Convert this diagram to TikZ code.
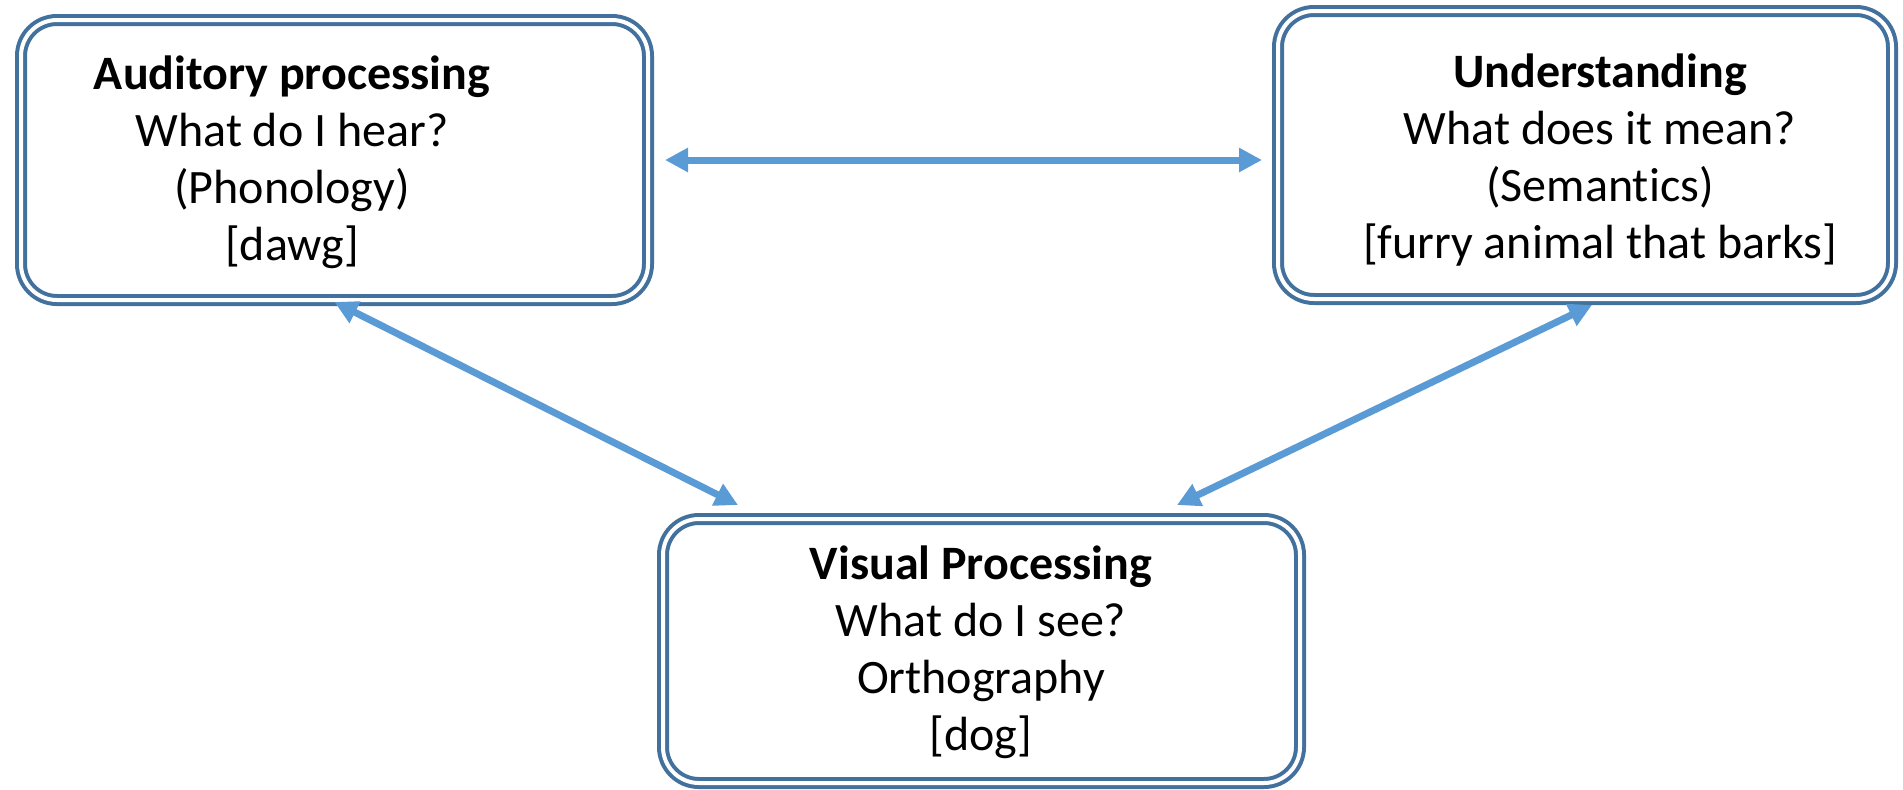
\documentclass[tikz,border=0pt]{standalone}
\usepackage{fontspec}
\setmainfont{Carlito}[Ligatures=CommonOff]
\usepackage{xcolor}
\usetikzlibrary{arrows.meta}
\definecolor{boxline}{HTML}{41719C}
\definecolor{linkblue}{HTML}{5B9BD5}

\begin{document}
\begin{tikzpicture}[x=0.5pt,y=-0.5pt]
        \tikzset{box/.style = {draw=boxline, line width=2pt, double=white, double distance=2pt, rounded corners=18pt, outer sep=3pt, inner sep=0pt}}
        \tikzset{boxtext/.style = {align=center, anchor=base, inner sep=0pt, font=\fontsize{24}{28.5}\selectfont}}
        \tikzset{link/.style = {draw=linkblue, line width=3.5pt, >={Triangle[width=11.5pt,length=11.5pt]}, <->}}
        \useasboundingbox (0,0) rectangle (1903,789);
        % boxes
        \node[box, minimum width=313.5pt, minimum height=140pt] (aud) at (334.5,160) {};
        \node[box, minimum width=307pt, minimum height=144pt] (sem) at (1585,155) {};
        \node[box, minimum width=318.5pt, minimum height=132pt] (vis) at (981.5,651) {};
        % texts
        \node[boxtext] (audtext) at (292,260) {\textbf{Auditory processing}\\What do I hear?\\(Phonology)\\{[dawg]}};
        \node[boxtext] (semtext) at (1600,258) {\textbf{Understanding}\\What does it mean?\\(Semantics)\\{[furry animal that barks]}};
        \node[boxtext] (vistext) at (981,750) {\textbf{Visual Processing}\\What do I see?\\Orthography\\{[dog]}};
        % links
        \draw[link, shorten <=5.5pt, shorten >=5pt] (aud.east) -- (aud.east -| sem.west);
        \draw[link] ([yshift=2pt]aud.south) -- ([xshift=40.5pt,yshift=4pt]vis.north west);
        \draw[link] ([xshift=3.5pt]sem.south) -- ([xshift=-64.5pt,yshift=4pt]vis.north east);
\end{tikzpicture}
\end{document}
